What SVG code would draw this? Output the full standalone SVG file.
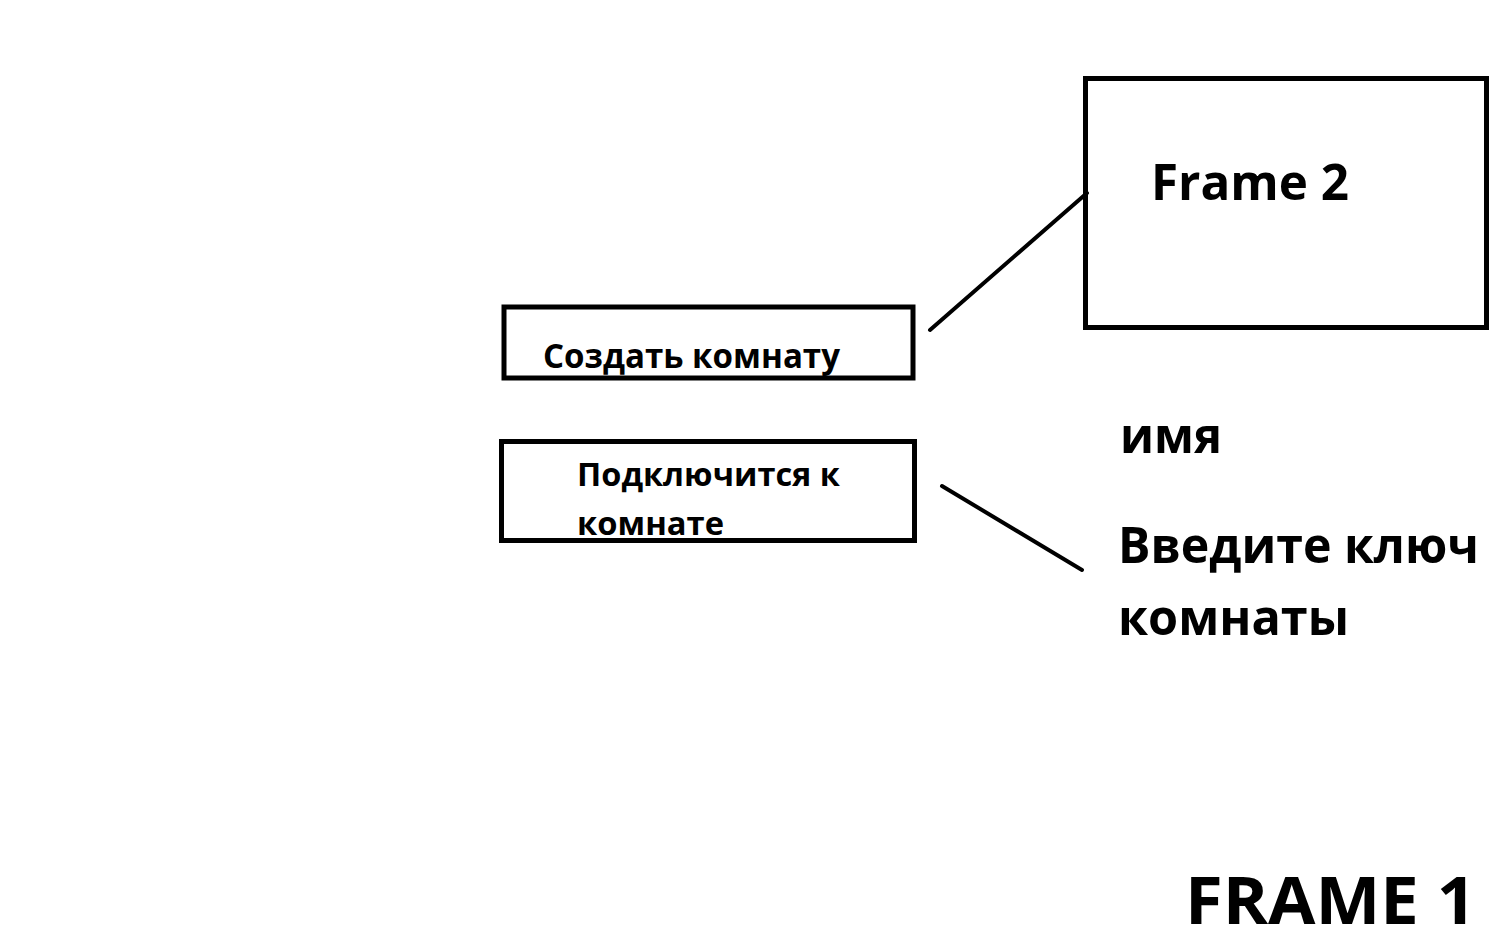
<svg xmlns="http://www.w3.org/2000/svg" width="1498" height="942" viewBox="0 0 1498 942">
<style>
.box{fill:none;stroke:#000;stroke-width:5}
.t{font-family:"Open Sans","Liberation Sans",sans-serif;font-weight:bold;fill:#000}
.ln{stroke:#000;stroke-width:4;stroke-linecap:round;fill:none}
</style>
<rect width="1498" height="942" fill="#fff"/>
<g id="frame2">
<rect class="box" x="1085.5" y="78.5" width="401" height="249"/>
<text class="t" x="1151" y="200" font-size="51" textLength="198" lengthAdjust="spacingAndGlyphs">Frame 2</text>
</g>
<g id="create-room">
<rect class="box" x="504" y="307" width="409" height="71"/>
<text class="t" x="543" y="368" font-size="34" textLength="297" lengthAdjust="spacingAndGlyphs">Создать комнату</text>
</g>
<g id="join-room">
<rect class="box" x="501.5" y="441.5" width="413" height="99"/>
<text class="t" x="577" y="486" font-size="33" textLength="263" lengthAdjust="spacingAndGlyphs">Подключится к</text>
<text class="t" x="577" y="535" font-size="33" textLength="147" lengthAdjust="spacingAndGlyphs">комнате</text>
</g>
<g id="name-label">
<text class="t" x="1120" y="453" font-size="51" textLength="102" lengthAdjust="spacingAndGlyphs">имя</text>
</g>
<g id="key-label">
<text class="t" x="1118" y="563" font-size="50" textLength="361" lengthAdjust="spacingAndGlyphs">Введите ключ</text>
<text class="t" x="1118" y="635" font-size="51" textLength="231" lengthAdjust="spacingAndGlyphs">комнаты</text>
</g>
<g id="frame1-label">
<text class="t" x="1185" y="924" font-size="67" textLength="291" lengthAdjust="spacingAndGlyphs">FRAME 1</text>
</g>
<g id="connectors">
<line class="ln" x1="930" y1="330" x2="1087" y2="193"/>
<line class="ln" x1="942" y1="486" x2="1082" y2="570" stroke-width="3.5"/>
</g>
</svg>
